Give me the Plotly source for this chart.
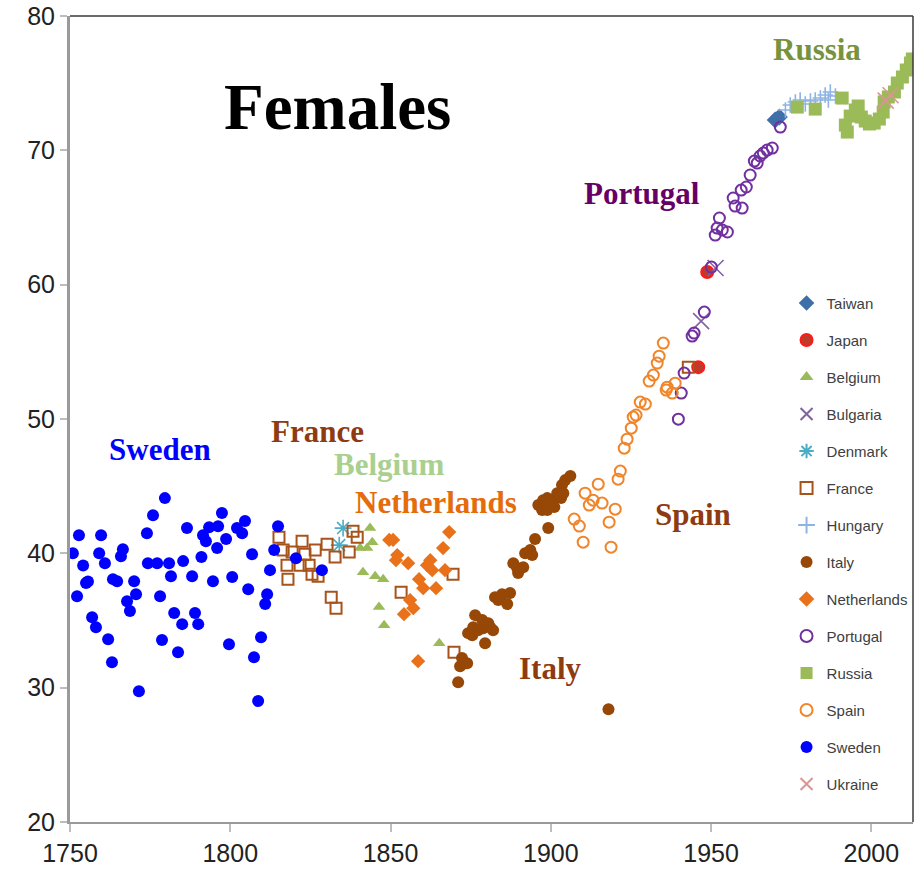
import plotly.graph_objects as go

# ---------------- data (year, female life expectancy) ----------------
taiwan_years = [1970.0, 1971.3]
taiwan_vals = [72.26, 72.48]

japan_years = [1946.0, 1948.8]
japan_vals = [53.86, 60.94]

belgium_years = [1840.5, 1841.4, 1842.7, 1843.6, 1844.3, 1845.2, 1846.4, 1847.7, 1848.0, 1865.2]
belgium_vals = [40.39, 38.6, 40.39, 41.88, 40.83, 38.3, 36.0, 38.08, 34.65, 33.31]

bulgaria_years = [1946.9, 1951.4]
bulgaria_vals = [57.29, 61.24]

denmark_years = [1834.0, 1835.2]
denmark_vals = [40.61, 41.88]

france_years = [1815.2, 1816.5, 1817.7, 1818.0, 1819.3, 1821.8, 1822.4, 1823.3, 1824.6, 1825.5,
                1826.5, 1827.4, 1830.2, 1831.5, 1832.7, 1833.0, 1837.1, 1838.3, 1839.6, 1853.3,
                1869.5, 1869.8, 1942.9]
france_vals = [41.2, 40.24, 39.12, 38.08, 40.09, 39.12, 40.9, 39.94, 39.12, 38.45,
               40.24, 38.3, 40.68, 36.74, 39.72, 35.92, 40.09, 41.65, 41.2, 37.11,
               38.45, 32.64, 53.86]

hungary_years = [1973.2, 1974.7, 1976.3, 1977.8, 1979.4, 1981.0, 1982.5, 1984.1, 1985.6, 1986.6, 1987.2, 1988.8]
hungary_vals = [73.0, 73.37, 73.6, 73.75, 73.45, 73.67, 73.75, 73.9, 74.12, 73.75, 74.34, 74.04]

italy_years = [1871.1, 1871.7, 1872.3, 1873.3, 1873.9, 1874.2, 1875.5, 1875.8, 1876.4, 1877.3,
               1878.6, 1878.9, 1879.5, 1880.5, 1881.1, 1882.0, 1882.6, 1883.6, 1884.8, 1886.4,
               1887.3, 1888.3, 1889.5, 1889.8, 1891.4, 1892.0, 1893.6, 1894.2, 1895.1, 1896.1,
               1897.3, 1897.6, 1898.9, 1898.9, 1899.2, 1900.4, 1901.1, 1902.0, 1903.2, 1903.5,
               1903.9, 1904.5, 1906.1, 1918.0]
italy_vals = [30.41, 31.6, 32.2, 31.82, 31.82, 34.06, 33.91, 34.5, 35.4, 34.28,
              35.03, 34.43, 33.31, 34.8, 34.5, 34.28, 36.74, 36.52, 36.96, 36.22,
              37.04, 39.27, 38.9, 38.53, 38.97, 40.0, 40.24, 39.87, 41.06, 43.59,
              43.22, 43.96, 44.11, 43.22, 41.88, 43.96, 43.44, 44.48, 44.11, 45.08,
              44.48, 45.45, 45.75, 28.4]

netherlands_years = [1849.6, 1850.8, 1851.7, 1852.1, 1854.2, 1855.5, 1856.1, 1857.1, 1858.6, 1858.9,
                     1860.2, 1861.4, 1862.4, 1863.0, 1864.2, 1866.4, 1867.0, 1868.3]
netherlands_vals = [41.0, 41.0, 39.49, 39.87, 35.47, 39.27, 36.52, 35.92, 31.97, 38.08,
                    37.41, 39.12, 39.49, 38.75, 37.41, 40.39, 38.75, 41.58]

portugal_years = [1939.8, 1940.7, 1941.6, 1944.1, 1944.7, 1947.9, 1950.1, 1951.3, 1951.9, 1952.6,
                  1953.5, 1955.1, 1956.9, 1957.5, 1959.4, 1959.7, 1961.0, 1962.2, 1963.5, 1964.4,
                  1965.3, 1966.3, 1967.5, 1969.1, 1971.6]
portugal_vals = [49.99, 51.93, 53.42, 56.17, 56.4, 57.96, 61.31, 63.69, 64.21, 64.96,
                 64.07, 63.92, 66.45, 65.85, 67.04, 65.7, 67.27, 68.16, 69.2, 69.05,
                 69.58, 69.8, 70.02, 70.17, 71.73]

russia_years = [1976.9, 1982.5, 1990.9, 1991.9, 1992.5, 1993.4, 1995.0, 1995.9, 1996.9, 1998.1,
                1999.4, 2000.9, 2002.5, 2003.7, 2004.0, 2005.3, 2007.2, 2008.1, 2009.7, 2010.9,
                2012.2, 2012.8]
russia_vals = [73.22, 73.07, 73.89, 71.88, 71.36, 72.55, 73.0, 73.3, 72.48, 72.18,
               71.96, 72.03, 72.33, 72.85, 73.6, 73.97, 74.34, 75.01, 75.46, 75.98,
               76.5, 76.8]

spain_years = [1907.3, 1908.9, 1910.1, 1910.7, 1912.0, 1913.2, 1914.8, 1916.0, 1918.2, 1918.8,
               1920.1, 1921.0, 1921.7, 1922.9, 1923.8, 1925.1, 1925.7, 1926.6, 1927.9, 1929.5,
               1930.7, 1932.0, 1933.2, 1933.8, 1935.1, 1936.0, 1936.3, 1937.9, 1938.8]
spain_vals = [42.55, 42.03, 40.83, 44.48, 43.59, 43.96, 45.15, 43.74, 42.32, 40.46,
              43.29, 45.52, 46.12, 47.83, 48.5, 49.32, 50.14, 50.29, 51.26, 51.11,
              52.82, 53.27, 54.16, 54.68, 55.65, 52.15, 52.37, 51.93, 52.67]

sweden_years = [1750.9, 1752.2, 1752.8, 1754.1, 1755.0, 1755.6, 1756.9, 1758.1, 1759.1, 1759.7,
                1760.9, 1761.9, 1763.1, 1763.4, 1764.7, 1765.9, 1766.5, 1767.8, 1768.7, 1770.0,
                1770.6, 1771.5, 1774.0, 1774.3, 1775.9, 1777.2, 1778.1, 1778.7, 1779.6, 1780.9,
                1781.5, 1782.5, 1783.7, 1785.0, 1785.3, 1786.5, 1788.1, 1789.0, 1790.0, 1791.0,
                1791.5, 1792.4, 1793.4, 1794.6, 1795.9, 1796.2, 1797.4, 1798.7, 1799.6, 1800.6,
                1802.1, 1803.7, 1804.6, 1805.6, 1806.8, 1807.4, 1808.7, 1809.6, 1810.9, 1811.5,
                1812.4, 1813.7, 1814.9, 1820.5, 1828.6]
sweden_vals = [40.0, 36.8, 41.35, 39.1, 37.8, 37.9, 35.25, 34.5, 40.0, 41.35,
               39.27, 33.6, 31.9, 38.08, 37.93, 39.79, 40.31, 36.44, 35.7, 37.93,
               36.96, 29.74, 41.5, 39.27, 42.84, 39.27, 36.8, 33.54, 44.11, 39.27,
               38.3, 35.55, 32.64, 34.73, 39.42, 41.88, 38.3, 35.55, 34.73, 39.72,
               41.35, 40.9, 41.95, 37.93, 40.39, 42.02, 43.0, 41.06, 33.24, 38.23,
               41.88, 41.5, 42.4, 37.33, 39.94, 32.27, 29.0, 33.76, 36.22, 36.96,
               38.75, 40.24, 42.02, 39.64, 38.75]

ukraine_years = [2004.5, 2006.0]
ukraine_vals = [73.7, 74.1]

x_tick_vals = [1750, 1800, 1850, 1900, 1950, 2000]
y_tick_vals = [20, 30, 40, 50, 60, 70, 80]

labels = [
    ("Females", 1833.3, 73.2, "#000000", 65),
    ("Sweden", 1778.1, 47.7, "#0000FF", 31),
    ("France", 1827.1, 49.1, "#8E3B12", 31),
    ("Belgium", 1849.6, 46.64, "#A9D08E", 31),
    ("Netherlands", 1864.2, 43.81, "#E46C0A", 31),
    ("Spain", 1944.4, 42.92, "#8E3B12", 31),
    ("Italy", 1899.8, 31.45, "#8E3B12", 31),
    ("Portugal", 1928.5, 66.82, "#660066", 31),
    ("Russia", 1983.1, 77.47, "#77933C", 31),
]

# ---------------- figure ----------------
series = [
    ("Taiwan", taiwan_years, taiwan_vals, dict(symbol="diamond", size=13, color="#3E6FA8")),
    ("Japan", japan_years, japan_vals, dict(symbol="circle", size=12, color="#C0392B", line=dict(color="#FF1A1A", width=2))),
    ("Belgium", belgium_years, belgium_vals, dict(symbol="triangle-up", size=11, color="#9BBB59")),
    ("Bulgaria", bulgaria_years, bulgaria_vals, dict(symbol="x-thin-open", size=16, color="#8064A2", line=dict(width=1.6))),
    ("Denmark", denmark_years, denmark_vals, dict(symbol="asterisk-open", size=14, color="#4BACC6", line=dict(width=1.6))),
    ("France", france_years, france_vals, dict(symbol="square-open", size=11, color="#A6541C", line=dict(width=2))),
    ("Hungary", hungary_years, hungary_vals, dict(symbol="cross-thin-open", size=11, color="#8EB4E3", line=dict(width=1.6))),
    ("Italy", italy_years, italy_vals, dict(symbol="circle", size=12, color="#974706")),
    ("Netherlands", netherlands_years, netherlands_vals, dict(symbol="diamond", size=11, color="#E8711A")),
    ("Portugal", portugal_years, portugal_vals, dict(symbol="circle-open", size=11, color="#7030A0", line=dict(width=2))),
    ("Russia", russia_years, russia_vals, dict(symbol="square", size=13, color="#9BBB59")),
    ("Spain", spain_years, spain_vals, dict(symbol="circle-open", size=11, color="#F0852A", line=dict(width=2))),
    ("Sweden", sweden_years, sweden_vals, dict(symbol="circle", size=12, color="#0000FF")),
    ("Ukraine", ukraine_years, ukraine_vals, dict(symbol="x-thin-open", size=16, color="#D99694", line=dict(width=1.6))),
]

fig = go.Figure()
for name, xs, ys, mk in series:
    fig.add_trace(go.Scatter(x=xs, y=ys, mode="markers", name=name, legendgroup=name,
                             marker=mk, hoverinfo="x+y+name"))

for text, x, y, color, size in labels:
    fig.add_annotation(x=x, y=y, text=text, showarrow=False,
                       font=dict(family="Liberation Serif, Times New Roman, serif",
                                 size=size, color=color, weight="bold"))

# top and right border lines
fig.add_shape(type="line", xref="paper", yref="paper", x0=0, x1=1, y0=1, y1=1,
              line=dict(color="#3A3A3A", width=1.5))
fig.add_shape(type="line", xref="paper", yref="paper", x0=1, x1=1, y0=0, y1=1,
              line=dict(color="#3A3A3A", width=1.5))

tick_font = dict(family="Liberation Sans, Arial, sans-serif", size=25, color="#222222")

fig.update_layout(
    width=916, height=875,
    margin=dict(l=70, r=3, t=16, b=53),
    paper_bgcolor="white", plot_bgcolor="white",
    showlegend=True,
    legend=dict(x=0.85, y=0.664, xanchor="left", yanchor="top",
                bgcolor="rgba(0,0,0,0)", borderwidth=0,
                font=dict(family="Liberation Sans, Arial, sans-serif", size=15, color="#404040"),
                tracegroupgap=14.5, itemsizing="constant"),
    xaxis=dict(range=[1750, 2013], tickvals=x_tick_vals, ticktext=[str(v) for v in x_tick_vals],
               showgrid=False, zeroline=False, showline=True, linecolor="#9A9A9A", linewidth=2,
               ticks="outside", ticklen=8, tickcolor="#BDBDBD", tickwidth=2,
               tickfont=tick_font, automargin=False),
    yaxis=dict(range=[20, 80], tickvals=y_tick_vals, ticktext=[str(v) for v in y_tick_vals],
               showgrid=False, zeroline=False, showline=True, linecolor="#9A9A9A", linewidth=3,
               ticks="outside", ticklen=7, tickcolor="#BDBDBD", tickwidth=2,
               tickfont=tick_font, automargin=False),
)

fig.write_html("out.html", config={"displayModeBar": False},
               post_script="document.body.style.margin='0';document.body.style.overflow='hidden';")
